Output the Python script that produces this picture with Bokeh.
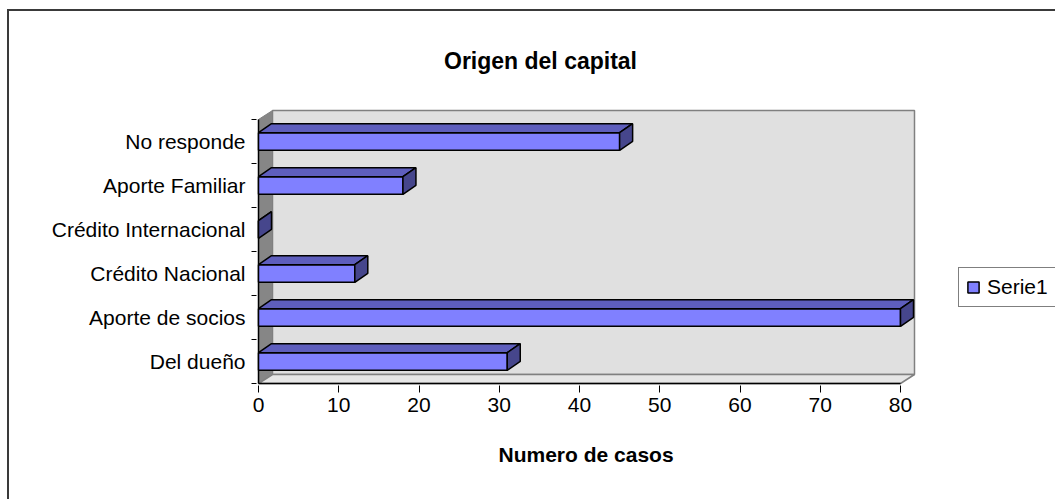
from bokeh.plotting import figure
from bokeh.models import Range1d, FixedTicker, Legend, LegendItem, Title, Label
from bokeh.embed import file_html
from bokeh.resources import INLINE

# ---- data ----
categories = ["Del dueño", "Aporte de socios", "Crédito Nacional",
              "Crédito Internacional", "Aporte Familiar", "No responde"]
values = [31, 80, 12, 0, 18, 45]
x_ticks = [0, 10, 20, 30, 40, 50, 60, 70, 80]
series_name = "Serie1"
title_text = "Origen del capital"
x_title = "Numero de casos"

# ---- geometry (pixel scale helpers) ----
PX_X = 8.025          # px per x unit
PX_Y = 44.0           # px per category
DX = 14 / PX_X        # wall depth
DY = 9 / PX_Y
BDX = 13 / PX_X       # bar depth
BDY = 9 / PX_Y
H = 0.2               # half bar thickness
XMAX = x_ticks[-1]
n = len(categories)
FONT = "Liberation Sans"

border_css = {
    "background-image": "linear-gradient(#3a3a3a, #3a3a3a), linear-gradient(#3a3a3a, #3a3a3a)",
    "background-size": "100% 2px, 2px 100%",
    "background-position": "7px 9px, 7px 9px",
    "background-repeat": "no-repeat",
}

p = figure(width=1055, height=499, output_backend="svg", toolbar_location=None,
           x_range=Range1d(-2 / PX_X, (1055 - 258) / PX_X),
           y_range=Range1d(-2 / PX_Y, 383 / PX_Y),
           min_border_left=256, min_border_right=0,
           min_border_top=0, min_border_bottom=114,
           styles=border_css)
p.grid.visible = False
p.outline_line_color = None
p.background_fill_alpha = 0
p.border_fill_alpha = 0

# walls
p.quad(left=DX, right=XMAX + DX, bottom=DY, top=n + DY,
       fill_color="#E0E0E0", line_color="#808080", line_width=1.5)
p.patch([0, DX, DX, 0], [0, DY, n + DY, n],
        fill_color="#868686", line_color="#808080", line_width=1)
p.patch([0, XMAX, XMAX + DX, DX], [0, 0, DY, DY],
        fill_color="#E6E6E6", line_color="#808080", line_width=1.5)
# axis lines
p.segment(x0=[0, 0], y0=[0, 0], x1=[0, XMAX], y1=[n, 0],
          line_color="black", line_width=1.5)

# bars
centers = [i + 0.5 for i in range(n)]
front = p.quad(left=[0] * n, right=values,
               bottom=[c - H for c in centers], top=[c + H for c in centers],
               fill_color="#8080FF", line_color="black", line_width=1.5)
top_xs, top_ys, side_xs, side_ys = [], [], [], []
for v, c in zip(values, centers):
    top_xs.append([0, v, v + BDX, BDX])
    top_ys.append([c + H, c + H, c + H + BDY, c + H + BDY])
    side_xs.append([v, v, v + BDX, v + BDX])
    side_ys.append([c - H, c + H, c + H + BDY, c - H + BDY])
p.patches(top_xs, top_ys, fill_color="#5E5EBD", line_color="black", line_width=1.5)
p.patches(side_xs, side_ys, fill_color="#46468C", line_color="black", line_width=1.5)

# y axis
p.yaxis.ticker = FixedTicker(ticks=centers, minor_ticks=list(range(n + 1)))
p.yaxis.major_label_overrides = {c: cat for c, cat in zip(centers, categories)}
p.yaxis.major_tick_out = 0
p.yaxis.major_tick_in = 0
p.yaxis.minor_tick_out = 5
p.yaxis.minor_tick_in = 0
p.yaxis.minor_tick_line_color = "black"
p.yaxis.axis_line_color = None
p.yaxis.major_label_standoff = 6
p.yaxis.major_label_text_font = FONT
p.yaxis.major_label_text_font_size = "21px"
p.yaxis.major_label_text_color = "black"

# x axis
p.xaxis.ticker = FixedTicker(ticks=x_ticks)
p.xaxis.major_tick_out = 7
p.xaxis.major_tick_in = 0
p.xaxis.major_tick_line_color = "black"
p.xaxis.minor_tick_line_color = None
p.xaxis.axis_line_color = None
p.xaxis.major_label_standoff = 5
p.xaxis.major_label_text_font = FONT
p.xaxis.major_label_text_font_size = "21px"
p.xaxis.major_label_text_color = "black"

# axis title (below)
p.add_layout(Title(text=x_title, align="left", offset=242, standoff=53,
                   text_font=FONT, text_font_size="21px", text_font_style="bold",
                   text_color="black"), "below")

# chart title (inside the tall frame, above the plot area)
p.add_layout(Label(x=(540 - 258) / PX_X, y=(383 - 60) / PX_Y, text=title_text,
                   text_align="center", text_baseline="alphabetic",
                   text_font=FONT, text_font_size="23px", text_font_style="bold",
                   text_color="black"))

# legend
legend = Legend(items=[LegendItem(label=series_name, renderers=[front])],
                location=(702, 78), glyph_width=14, glyph_height=14,
                label_text_font=FONT, label_text_font_size="21px",
                label_text_color="black",
                label_standoff=7, padding=7, margin=0,
                border_line_color="black", border_line_width=1,
                background_fill_color="white", background_fill_alpha=1)
p.add_layout(legend)

open("out.html", "w").write(file_html(p, INLINE))
